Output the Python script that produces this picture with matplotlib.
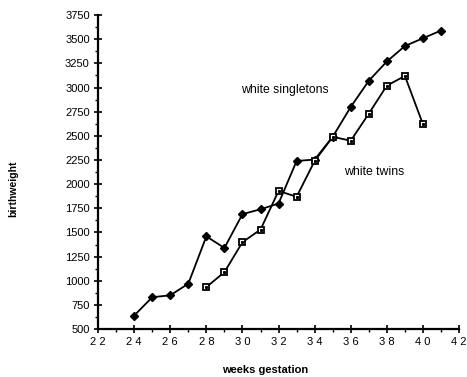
import matplotlib
matplotlib.use("Agg")
import matplotlib.pyplot as plt
from matplotlib.ticker import MultipleLocator

plt.rcParams['font.family'] = ['Liberation Sans', 'DejaVu Sans']

sing_weeks = [24, 25, 26, 27, 28, 29, 30, 31, 32, 33, 34, 35, 36, 37, 38, 39, 40, 41]
sing_wt = [640, 830, 850, 970, 1460, 1340, 1690, 1740, 1800, 2240, 2255, 2490, 2800, 3070, 3270, 3430, 3510, 3590]
twin_weeks = [28, 29, 30, 31, 32, 33, 34, 35, 36, 37, 38, 39, 40]
twin_wt = [935, 1090, 1400, 1530, 1930, 1870, 2240, 2490, 2450, 2730, 3020, 3120, 2620]
x_ticks = [22, 24, 26, 28, 30, 32, 34, 36, 38, 40, 42]
y_ticks = [500, 750, 1000, 1250, 1500, 1750, 2000, 2250, 2500, 2750, 3000, 3250, 3500, 3750]

fig = plt.figure(figsize=(4.67, 3.77), dpi=100)
ax = fig.add_axes([0.21, 0.127, 0.773, 0.833])

ax.plot(sing_weeks, sing_wt, color='black', lw=1.3, marker='D', ms=4.2,
        mfc='black', mec='black', zorder=3)
ax.plot(twin_weeks, twin_wt, color='black', lw=1.3, marker='s', ms=5.0,
        mfc='white', mec='black', mew=1.3, zorder=4)
ax.plot(twin_weeks, twin_wt, ls='none', marker='s', ms=1.2,
        mfc='black', mec='black', zorder=5)

ax.set_xlim(22, 42)
ax.set_ylim(500, 3750)
ax.set_xticks(x_ticks)
ax.set_xticklabels([' '.join(str(v)) for v in x_ticks], fontsize=8)
ax.set_yticks(y_ticks)
ax.set_yticklabels([str(v) for v in y_ticks], fontsize=8)
ax.xaxis.set_minor_locator(MultipleLocator(1))
ax.yaxis.set_minor_locator(MultipleLocator(125))
ax.tick_params(axis='both', which='major', direction='inout', length=6, width=1.2, pad=3)
ax.tick_params(axis='both', which='minor', direction='out', length=2.5, width=1)

for s in ['top', 'right']:
    ax.spines[s].set_visible(False)
for s in ['left', 'bottom']:
    ax.spines[s].set_linewidth(1.6)

ax.text(29.9, 2977, 'white singletons', fontsize=8.8, ha='left', va='center')
ax.text(35.6, 2128, 'white twins', fontsize=8.8, ha='left', va='center')

fig.text(0.028, 0.499, 'birthweight', rotation=90, fontsize=7.5,
         fontweight='bold', ha='center', va='center')
fig.text(0.567, 0.019, 'weeks gestation', fontsize=8, fontweight='bold',
         ha='center', va='center')

fig.savefig('out.png', dpi=100)
